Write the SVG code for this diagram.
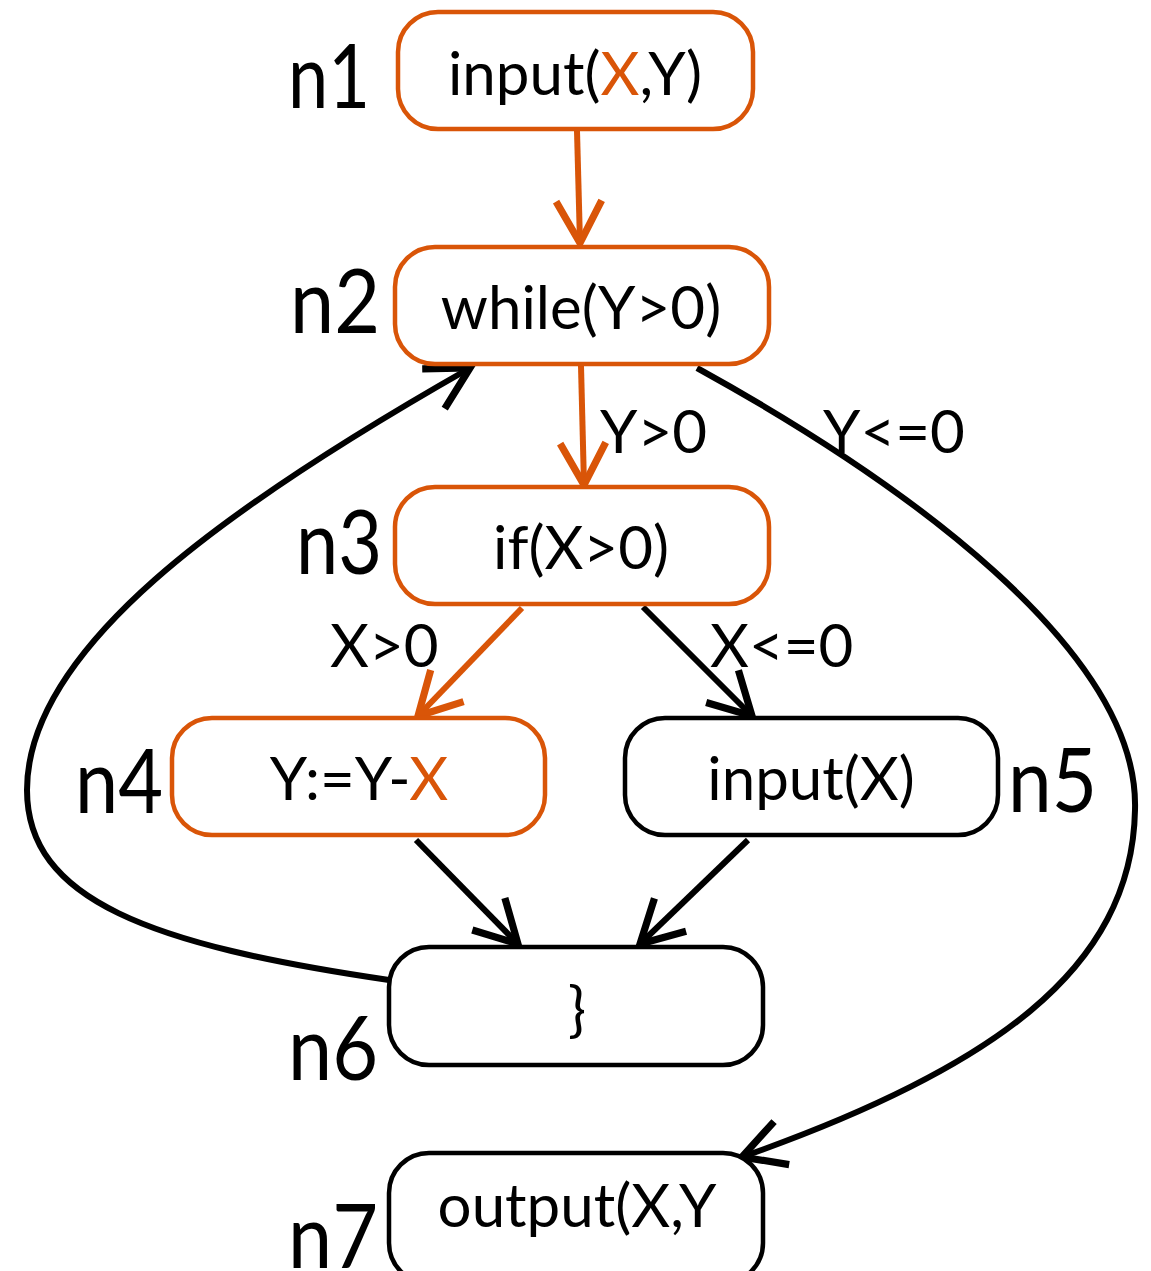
<svg xmlns="http://www.w3.org/2000/svg" width="1151" height="1271" viewBox="0 0 1151 1271">
<style>
.box{fill:#fff;stroke-width:4.5}
.o{stroke:#D95508}
.k{stroke:#000}
.t{font-family:Lato,"Open Sans",sans-serif;font-size:60px;fill:#000}
.mid{text-anchor:middle}
.lbl{font-family:Lato,"Open Sans",sans-serif;font-size:90px;fill:#000}
.hl{fill:#D95508}
.e{fill:none;stroke-width:6}
</style>
<defs>
<marker id="ao" markerUnits="userSpaceOnUse" markerWidth="60" markerHeight="60" refX="0" refY="0" viewBox="-40 -25 45 50" orient="auto" overflow="visible">
<path d="M-35,-19 L0,0 L-35,19" fill="none" stroke="#D95508" stroke-width="6"/>
</marker>
<marker id="ak" markerUnits="userSpaceOnUse" markerWidth="60" markerHeight="60" refX="0" refY="0" viewBox="-40 -25 45 50" orient="auto" overflow="visible">
<path d="M-35,-19 L0,0 L-35,19" fill="none" stroke="#000" stroke-width="6"/>
</marker>
</defs>
<g id="connectors">
<path class="e o" d="M577,131 L580,243" marker-end="url(#ao)"/>
<path class="e o" d="M581,366 L584,485" marker-end="url(#ao)"/>
<path class="e o" d="M522,608 L418,716" marker-end="url(#ao)"/>
<path class="e k" d="M643,607 L752,716" marker-end="url(#ak)"/>
<path class="e k" d="M416,840 L518,944" marker-end="url(#ak)"/>
<path class="e k" d="M748,840 L640,944" marker-end="url(#ak)"/>
<path class="e k" d="M389,980 C150,945 27,900 27,790 C27,650 220,510 470,368" marker-end="url(#ak)"/>
<path class="e k" d="M697,368 C900,480 1140,650 1135,810 C1132,970 990,1070 742,1157" marker-end="url(#ak)"/>
<text class="t" x="600" y="453">Y&gt;0</text>
<text class="t" x="823" y="453">Y&lt;=0</text>
<text class="t" x="330" y="667">X&gt;0</text>
<text class="t" x="710" y="667">X&lt;=0</text>
</g>
<g id="n1">
<rect class="box o" x="398" y="12" width="355" height="117" rx="40"/>
<text class="t mid" x="575" y="95">input(<tspan class="hl">X</tspan>,Y)</text>
<text class="lbl" x="288" y="108" textLength="82" lengthAdjust="spacingAndGlyphs">n1</text>
</g>
<g id="n2">
<rect class="box o" x="395" y="247" width="374" height="117" rx="40"/>
<text class="t mid" x="581" y="329">while(Y&gt;0)</text>
<text class="lbl" x="290" y="333" textLength="90" lengthAdjust="spacingAndGlyphs">n2</text>
</g>
<g id="n3">
<rect class="box o" x="395" y="487" width="374" height="117" rx="40"/>
<text class="t mid" x="581" y="569">if(X&gt;0)</text>
<text class="lbl" x="296" y="574" textLength="86" lengthAdjust="spacingAndGlyphs">n3</text>
</g>
<g id="n4">
<rect class="box o" x="172" y="718" width="373" height="117" rx="40"/>
<text class="t mid" x="359" y="800">Y:=Y-<tspan class="hl">X</tspan></text>
<text class="lbl" x="75" y="813" textLength="88" lengthAdjust="spacingAndGlyphs">n4</text>
</g>
<g id="n5">
<rect class="box k" x="625" y="718" width="373" height="117" rx="40"/>
<text class="t mid" x="811" y="800">input(X)</text>
<text class="lbl" x="1008" y="812" textLength="89" lengthAdjust="spacingAndGlyphs">n5</text>
</g>
<g id="n6">
<rect class="box k" x="389" y="947" width="374" height="118" rx="40"/>
<text class="t mid" x="577" y="1030">}</text>
<text class="lbl" x="288" y="1080" textLength="90" lengthAdjust="spacingAndGlyphs">n6</text>
</g>
<g id="n7">
<rect class="box k" x="389" y="1153" width="374" height="130" rx="40"/>
<text class="t mid" x="577" y="1227">output(X,Y</text>
<text class="lbl" x="288" y="1268" textLength="90" lengthAdjust="spacingAndGlyphs">n7</text>
</g>
</svg>
